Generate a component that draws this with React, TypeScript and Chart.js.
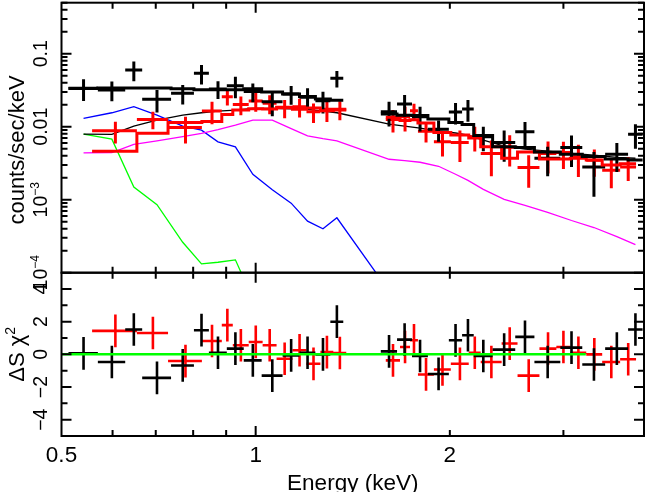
import React, { useEffect, useRef } from 'react';
import { Chart, registerables } from 'chart.js';
Chart.register(...registerables);

const FONT = '"Liberation Sans", Arial, Helvetica, sans-serif';

// ---------- black spectrum (bins in keV, rates in counts/sec/keV) ----------
const blackLo = [0.5126, 0.5693, 0.6277, 0.6669, 0.7393, 0.8022, 0.8462, 0.9021, 0.9583, 1.0216, 1.1008, 1.1693, 1.2377, 1.3055,
  1.5632, 1.6565, 1.7472, 1.8494, 1.993, 2.0894, 2.178, 2.33, 2.526, 2.705, 2.967, 3.209, 3.482, 3.779];
const blackHi = [0.5693, 0.6277, 0.6669, 0.7393, 0.8022, 0.8462, 0.9021, 0.9583, 1.0216, 1.1008, 1.1693, 1.2377, 1.3055, 1.3672,
  1.6565, 1.7472, 1.8494, 1.993, 2.0894, 2.178, 2.33, 2.526, 2.705, 2.967, 3.209, 3.482, 3.779, 3.98];
const blackRate = [0.0336, 0.0319, 0.06, 0.0237, 0.0287, 0.0541, 0.0329, 0.0365, 0.0304, 0.022, 0.0281, 0.0253, 0.0227, 0.0462,
  0.016, 0.0205, 0.0137, 0.0092, 0.0159, 0.0175, 0.0073, 0.0061, 0.0085, 0.0037, 0.0052, 0.0028, 0.0042, 0.0079];
const blackErr = [0.0111, 0.0096, 0.018, 0.0081, 0.0086, 0.0162, 0.0089, 0.012, 0.0088, 0.0081, 0.0081, 0.0083, 0.0075, 0.0118,
  0.0059, 0.0068, 0.0051, 0.003, 0.0052, 0.0058, 0.0027, 0.0028, 0.0031, 0.0016, 0.0024, 0.0017, 0.0018, 0.0029];
const blackModel = [0.0335, 0.034, 0.034, 0.034, 0.033, 0.032, 0.032, 0.032, 0.033, 0.03, 0.028, 0.026, 0.024, 0.023,
  0.0149, 0.0144, 0.0142, 0.0128, 0.0114, 0.0107, 0.0076, 0.0053, 0.0052, 0.0045, 0.0042, 0.0039, 0.0036, 0.0035];
const blackResid = [0.06, -0.47, 1.52, -1.44, -0.68, 1.48, 0.1, 0.35, -0.37, -1.3, -0.06, 0.1, 0.0, 2.0,
  0.18, 0.9, -0.1, -1.2, 0.86, 1.17, -0.1, 0.29, 1.07, -0.47, 0.41, -0.62, 0.35, 1.52];

// ---------- red spectrum ----------
const redLo = [0.5577, 0.6544, 0.7314, 0.8253, 0.8861, 0.9216, 0.9755, 1.0252, 1.0775, 1.1405, 1.1988, 1.2599, 1.3195,
  1.5912, 1.6742, 1.7348, 1.7848, 1.8894, 2.0071, 2.1396, 2.2331, 2.4062, 2.5468, 2.754, 2.9254, 3.0748, 3.2548, 3.4454, 3.6734];
const redHi = [0.6544, 0.7314, 0.8253, 0.8861, 0.9216, 0.9755, 1.0252, 1.0775, 1.1405, 1.1988, 1.2599, 1.3195, 1.3819,
  1.6742, 1.7348, 1.7848, 1.8894, 2.0071, 2.1396, 2.2331, 2.4062, 2.5468, 2.754, 2.9254, 3.0748, 3.2548, 3.4454, 3.6734, 3.8882];
const redRate = [0.00879, 0.0126, 0.00978, 0.01639, 0.02578, 0.02014, 0.0225, 0.02092, 0.0182, 0.01878, 0.01603, 0.0173, 0.0173,
  0.0126, 0.01369, 0.01655, 0.0087, 0.0062, 0.00608, 0.00726, 0.00429, 0.00524, 0.00276, 0.00429, 0.00443, 0.00385, 0.00347, 0.00253, 0.00281];
const redErr = [0.0029, 0.0034, 0.0039, 0.0056, 0.0062, 0.0058, 0.0065, 0.0061, 0.0051, 0.0054, 0.0048, 0.0057, 0.005,
  0.0043, 0.0051, 0.0041, 0.0026, 0.0023, 0.0028, 0.0027, 0.0022, 0.0024, 0.0013, 0.002, 0.0018, 0.0018, 0.0014, 0.0011, 0.001];
const redModel = [0.00461, 0.00815, 0.0114, 0.0118, 0.0147, 0.0169, 0.0176, 0.0175, 0.0185, 0.0174, 0.018, 0.0165, 0.0169,
  0.0135, 0.0122, 0.0125, 0.0112, 0.0083, 0.0077, 0.007, 0.0053, 0.0037, 0.0045, 0.0036, 0.0036, 0.0037, 0.0035, 0.003, 0.0031];
const redResid = [1.44, 1.31, -0.41, 0.82, 1.79, 0.56, 0.76, 0.56, -0.27, 0.25, -0.58, 0.14, 0.08,
  -0.37, 0.45, 0.86, -1.23, -0.93, -0.58, 0.1, -0.47, 0.66, -1.3, 0.35, 0.45, 0.1, 0.0, -0.47, -0.3];

// ---------- model curves sampled at the black bin centres ----------
const totalCurve = [0.00791, 0.00783, 0.0102, 0.01233, 0.01444, 0.01553, 0.01639, 0.01692, 0.01786, 0.01786, 0.01757, 0.0173, 0.01639, 0.01553,
  0.01086, 0.0102, 0.00957, 0.0087, 0.0082, 0.00766, 0.00654, 0.00541, 0.00492, 0.00462, 0.0043, 0.00407, 0.0038, 0.0037];
const blueCurve = [0.01301, 0.01553, 0.01878, 0.01444, 0.01019, 0.00898, 0.0062, 0.00529, 0.002228, 0.001373, 0.000898, 0.000508, 0.000399, 0.000565,
  0.000056, null, null, null, null, null, null, null, null, null, null, null, null, null];
const greenCurve = [0.00791, 0.00675, 0.00149, 0.000853, 0.000261, 0.000132, 0.000139, 0.00015, 0.0000439,
  null, null, null, null, null, null, null, null, null, null, null, null, null, null, null, null, null, null, null];
const magentaCurve = [0.004375, 0.00443, 0.00571, 0.0064, 0.00731, 0.00809, 0.00912, 0.01052, 0.01233, 0.01233, 0.00939, 0.0075, 0.00686, 0.0064,
  0.003584, 0.00344, 0.00326, 0.00287, 0.00223, 0.001843, 0.001386, 0.001009, 0.000835, 0.000669, 0.000519, 0.000416, 0.000313, 0.000243];

// residual zero line extent (keV)
const zeroLineE = [0.5, 3.25];
const residErr = 1;

// ---------- axes ----------
const xRange = [0.5, 4];
const xLabelValues = [0.5, 1, 2];
const xLabelTexts = ['0.5', '1', '2'];
const xMajorTicks = [1];
const xMinorTicks = [0.6, 0.7, 0.8, 0.9, 2, 3];
const yTopRange = [1e-4, 0.5];
const yTopLabelValues = [1e-4, 1e-3, 0.01, 0.1];
const yTopLabelBase = ['10', '10', '0.01', '0.1'];
const yTopLabelExp = ['\u22124', '\u22123', '', ''];
const yResRange = [-5, 5];
const yResLabelValues = [-4, -2, 0, 2, 4];
const yResLabelTexts = ['\u22124', '\u22122', '0', '2', '4'];

type P = { x: number; y: number | null };

function crossPts(lo: number[], hi: number[], val: number[], err: number[] | number): P[] {
  const pts: P[] = [];
  lo.forEach((l, i) => {
    const h = hi[i];
    const c = (l + h) / 2;
    const v = val[i];
    const e = typeof err === 'number' ? err : err[i];
    pts.push({ x: l, y: v }, { x: h, y: v }, { x: h, y: null }, { x: c, y: v - e }, { x: c, y: v + e }, { x: c, y: null });
  });
  return pts;
}

function stepPts(lo: number[], hi: number[], val: number[]): P[] {
  const pts: P[] = [];
  lo.forEach((l, i) => {
    if (i > 0 && Math.abs(l - hi[i - 1]) > 1e-6) pts.push({ x: (l + hi[i - 1]) / 2, y: null });
    pts.push({ x: l, y: val[i] }, { x: hi[i], y: val[i] });
  });
  return pts;
}

function curvePts(lo: number[], hi: number[], val: (number | null)[]): P[] {
  return lo.map((l, i) => ({ x: (l + hi[i]) / 2, y: val[i] }));
}

const base = {
  type: 'line' as const,
  pointRadius: 0,
  pointHoverRadius: 0,
  fill: false,
  tension: 0,
  spanGaps: false,
  borderCapStyle: 'butt' as const,
  borderJoinStyle: 'miter' as const,
};

const panelClip = {
  id: 'panelClip',
  beforeDatasetDraw(chart: any, args: any) {
    const ys = args.meta.yScale;
    const ca = chart.chartArea;
    const ctx = chart.ctx;
    ctx.save();
    ctx.beginPath();
    ctx.rect(ca.left, ys.top, ca.right - ca.left, ys.bottom - ys.top);
    ctx.clip();
  },
  afterDatasetDraw(chart: any) {
    chart.ctx.restore();
  },
};

const framePlugin = {
  id: 'frame',
  afterDatasetsDraw(chart: any) {
    const ctx = chart.ctx;
    const xs = chart.scales.x;
    const yt = chart.scales.y;
    const yr = chart.scales.yr;
    const L = chart.chartArea.left;
    const R = chart.chartArea.right;
    ctx.save();
    ctx.strokeStyle = '#000';
    ctx.lineWidth = 2;
    ctx.strokeRect(L, yt.top, R - L, yt.bottom - yt.top);
    ctx.strokeRect(L, yr.top, R - L, yr.bottom - yr.top);
    ctx.beginPath();
    const panels = [yt, yr];
    const xt = [...xMajorTicks.map((v) => [v, 10]), ...xMinorTicks.map((v) => [v, 6])];
    panels.forEach((p) => {
      xt.forEach(([v, len]) => {
        const px = xs.getPixelForValue(v);
        ctx.moveTo(px, p.top);
        ctx.lineTo(px, p.top + len);
        ctx.moveTo(px, p.bottom);
        ctx.lineTo(px, p.bottom - len);
      });
    });
    const yTicks: [number, number, any][] = [];
    yTopLabelValues.forEach((d) => {
      yTicks.push([d, 10, yt]);
      for (let k = 2; k <= 9; k++) if (k * d <= yTopRange[1] + 1e-9) yTicks.push([k * d, 6, yt]);
    });
    for (let r = yResRange[0]; r <= yResRange[1]; r++) yTicks.push([r, r % 2 === 0 ? 10 : 6, yr]);
    yTicks.forEach(([v, len, s]) => {
      const py = s.getPixelForValue(v);
      ctx.moveTo(L, py);
      ctx.lineTo(L + len, py);
      ctx.moveTo(R, py);
      ctx.lineTo(R - len, py);
    });
    ctx.stroke();
    ctx.restore();
  },
};

function rotLabel(ctx: CanvasRenderingContext2D, x: number, y: number, txt: string, sup: string, size: number) {
  ctx.save();
  ctx.translate(x, y);
  ctx.rotate(-Math.PI / 2);
  ctx.font = `${size}px ${FONT}`;
  const w1 = ctx.measureText(txt).width;
  const ss = Math.round(size * 0.62);
  ctx.font = `${ss}px ${FONT}`;
  const w2 = sup ? ctx.measureText(sup).width : 0;
  const x0 = -(w1 + w2) / 2;
  ctx.textAlign = 'left';
  ctx.textBaseline = 'alphabetic';
  ctx.font = `${size}px ${FONT}`;
  ctx.fillText(txt, x0, 0);
  if (sup) {
    ctx.font = `${ss}px ${FONT}`;
    ctx.fillText(sup, x0 + w1, -size * 0.42);
  }
  ctx.restore();
}

const textPlugin = {
  id: 'texts',
  afterDraw(chart: any) {
    const ctx: CanvasRenderingContext2D = chart.ctx;
    const xs = chart.scales.x;
    const yt = chart.scales.y;
    const yr = chart.scales.yr;
    const ca = chart.chartArea;
    ctx.save();
    ctx.fillStyle = '#000';
    ctx.font = `22.5px ${FONT}`;
    ctx.textAlign = 'center';
    ctx.textBaseline = 'alphabetic';
    xLabelValues.forEach((v, i) => ctx.fillText(xLabelTexts[i], xs.getPixelForValue(v), 462));
    ctx.font = `22.5px ${FONT}`;
    ctx.fillText('Energy (keV)', (ca.left + ca.right) / 2, 490);
    yTopLabelValues.forEach((v, i) => rotLabel(ctx, 47, yt.getPixelForValue(v), yTopLabelBase[i], yTopLabelExp[i], 19.5));
    yResLabelValues.forEach((v, i) => rotLabel(ctx, 46.5, yr.getPixelForValue(v), yResLabelTexts[i], '', 19.5));
    rotLabel(ctx, 24, 150, 'counts/sec/keV', '', 22);
    rotLabel(ctx, 24, yr.getPixelForValue(0), '\u0394S \u03c7', '2', 22);
    ctx.restore();
  },
};

export default function App() {
  const ref = useRef<HTMLCanvasElement>(null);
  useEffect(() => {
    document.body.style.margin = '0';
    const hidden = {
      display: true,
      ticks: { display: false },
      grid: { display: false },
      border: { display: false },
    };
    const chart = new Chart(ref.current as HTMLCanvasElement, {
      type: 'line',
      data: {
        datasets: [
          { ...base, data: stepPts(blackLo, blackHi, blackModel), borderColor: '#000000', borderWidth: 3, yAxisID: 'y' },
          { ...base, data: stepPts(redLo, redHi, redModel), borderColor: '#ff0000', borderWidth: 3, yAxisID: 'y' },
          { ...base, data: crossPts(blackLo, blackHi, blackRate, blackErr), borderColor: '#000000', borderWidth: 3, yAxisID: 'y' },
          { ...base, data: crossPts(redLo, redHi, redRate, redErr), borderColor: '#ff0000', borderWidth: 3, yAxisID: 'y' },
          { ...base, data: curvePts(blackLo, blackHi, totalCurve), borderColor: '#000000', borderWidth: 1.3, yAxisID: 'y' },
          { ...base, data: curvePts(blackLo, blackHi, magentaCurve), borderColor: '#ff00ff', borderWidth: 1.3, yAxisID: 'y' },
          { ...base, data: curvePts(blackLo, blackHi, blueCurve), borderColor: '#0000ff', borderWidth: 1.3, yAxisID: 'y' },
          { ...base, data: curvePts(blackLo, blackHi, greenCurve), borderColor: '#00ff00', borderWidth: 1.3, yAxisID: 'y' },
          { ...base, data: zeroLineE.map((e) => ({ x: e, y: 0 })), borderColor: '#00ff00', borderWidth: 2.5, yAxisID: 'yr' },
          { ...base, data: crossPts(blackLo, blackHi, blackResid, residErr), borderColor: '#000000', borderWidth: 2.6, yAxisID: 'yr' },
          { ...base, data: crossPts(redLo, redHi, redResid, residErr), borderColor: '#ff0000', borderWidth: 2.6, yAxisID: 'yr' },
        ],
      },
      options: {
        responsive: false,
        animation: false,
        devicePixelRatio: 1,
        events: [],
        layout: { padding: { left: 61.5, right: 4, top: 2.7, bottom: 56 } },
        plugins: { legend: { display: false }, tooltip: { enabled: false } },
        scales: {
          x: { ...hidden, type: 'logarithmic', min: xRange[0], max: xRange[1], afterFit: (s: any) => { s.height = 0; } },
          yr: { ...hidden, type: 'linear', min: yResRange[0], max: yResRange[1], position: 'left', stack: 'panels', stackWeight: 163.3, afterFit: (s: any) => { s.width = 0; } },
          y: { ...hidden, type: 'logarithmic', min: yTopRange[0], max: yTopRange[1], position: 'left', stack: 'panels', stackWeight: 270, afterFit: (s: any) => { s.width = 0; } },
        },
      } as any,
      plugins: [panelClip, framePlugin, textPlugin],
    });
    return () => chart.destroy();
  }, []);
  return (
    <div style={{ width: 648, height: 492 }}>
      <canvas ref={ref} width={648} height={492} style={{ display: 'block', width: 648, height: 492 }} />
    </div>
  );
}
